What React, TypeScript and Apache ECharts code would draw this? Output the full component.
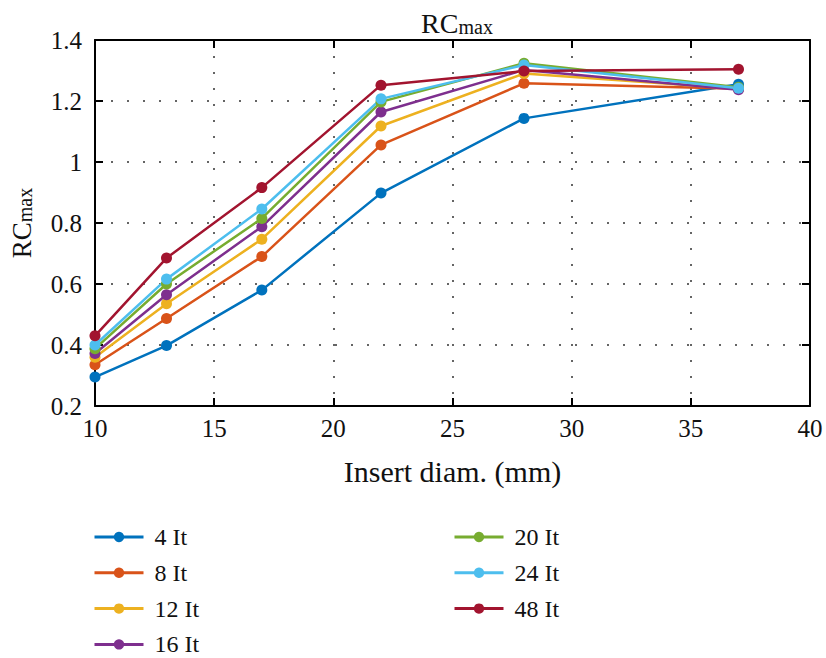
import React, { useEffect, useRef } from "react";
import * as echarts from "echarts";

const diameters = [10, 13, 17, 22, 28, 37];
const seriesNames = ["4 It", "8 It", "12 It", "16 It", "20 It", "24 It", "48 It"];
const it4 = [0.295, 0.398, 0.58, 0.898, 1.143, 1.255];
const it8 = [0.335, 0.487, 0.69, 1.056, 1.258, 1.24];
const it12 = [0.36, 0.535, 0.747, 1.118, 1.29, 1.24];
const it16 = [0.372, 0.565, 0.788, 1.164, 1.302, 1.237];
const it20 = [0.388, 0.6, 0.815, 1.197, 1.324, 1.245];
const it24 = [0.4, 0.616, 0.846, 1.207, 1.318, 1.242];
const it48 = [0.43, 0.685, 0.916, 1.252, 1.298, 1.304];
const colors = ["#0072BD", "#D95319", "#EDB120", "#7E2F8E", "#77AC30", "#4DBEEE", "#A2142F"];

const allValues = [it4, it8, it12, it16, it20, it24, it48];
const FONT = "'Liberation Serif', 'Times New Roman', serif";

export default function App() {
  const ref = useRef<HTMLDivElement>(null);
  useEffect(() => {
    if (!ref.current) return;
    const chart = echarts.init(ref.current, null, { renderer: "svg" });
    const axisLine = { show: true, lineStyle: { color: "#000", width: 2 } };
    const axisTick = { show: true, inside: true, length: 8, lineStyle: { color: "#000", width: 2 } };
    const splitLine = { show: true, lineStyle: { color: "#333", type: [2, 14], width: 1.5 } };
    const series = seriesNames.map((name, i) => ({
      name,
      type: "line",
      data: diameters.map((d, j) => [d, allValues[i][j]]),
      symbol: "circle",
      symbolSize: 11,
      lineStyle: { width: 2.5, color: colors[i] },
      itemStyle: { color: colors[i] },
      xAxisIndex: 0,
      yAxisIndex: 0,
    }));
    const legendCommon = {
      orient: "vertical",
      top: 520,
      height: 150,
      itemWidth: 49,
      itemHeight: 13,
      itemGap: 11.8,
      lineStyle: { width: 3 },
      textStyle: { fontFamily: FONT, fontSize: 24, color: "#111", padding: [0, 0, 0, 6] },
    };
    chart.setOption({
      animation: false,
      textStyle: { fontFamily: FONT },
      title: {
        text: "{a|RC}{b|max}",
        left: 452,
        textAlign: "center",
        top: 0,
        textStyle: {
          fontFamily: FONT,
          fontSize: 28,
          fontWeight: "normal",
          color: "#111",
          rich: {
            a: { fontFamily: FONT, fontSize: 28, color: "#111", fontWeight: "normal", verticalAlign: "bottom" },
            b: { fontFamily: FONT, fontSize: 20, color: "#111", fontWeight: "normal", padding: [12, 0, 0, 0], verticalAlign: "bottom" },
          },
        },
      },
      grid: { left: 93, right: 16, top: 40, bottom: 252, containLabel: false },
      xAxis: [
        {
          type: "value",
          min: 10,
          max: 40,
          interval: 5,
          position: "bottom",
          name: "Insert diam. (mm)",
          nameLocation: "middle",
          nameGap: 50,
          nameTextStyle: { fontFamily: FONT, fontSize: 30, color: "#111" },
          axisLine,
          axisTick,
          axisLabel: { fontFamily: FONT, fontSize: 25, color: "#111", margin: 10 },
          splitLine,
        },
        {
          type: "value",
          min: 10,
          max: 40,
          interval: 5,
          position: "top",
          axisLine,
          axisTick,
          axisLabel: { show: false },
          splitLine: { show: false },
        },
      ],
      yAxis: [
        {
          type: "value",
          min: 0.2,
          max: 1.4,
          interval: 0.2,
          position: "left",
          name: "{a|RC}{b|max}",
          nameLocation: "middle",
          nameGap: 60,
          nameRotate: 90,
          nameTextStyle: {
            fontFamily: FONT,
            fontSize: 27,
            rich: {
              a: { fontFamily: FONT, fontSize: 27, color: "#111", verticalAlign: "bottom" },
              b: { fontFamily: FONT, fontSize: 20, color: "#111", padding: [12, 0, 0, 0], verticalAlign: "bottom" },
            },
          },
          axisLine,
          axisTick,
          axisLabel: { fontFamily: FONT, fontSize: 25, color: "#111", margin: 13 },
          splitLine,
        },
        {
          type: "value",
          min: 0.2,
          max: 1.4,
          interval: 0.2,
          position: "right",
          axisLine,
          axisTick,
          axisLabel: { show: false },
          splitLine: { show: false },
        },
      ],
      legend: [
        { ...legendCommon, data: seriesNames.slice(0, 4), left: 88 },
        { ...legendCommon, data: seriesNames.slice(4), left: 448 },
      ],
      series,
    });
    return () => chart.dispose();
  }, []);
  return <div ref={ref} style={{ width: 826, height: 658, position: "absolute", left: 0, top: 0, background: "#fff" }} />;
}
